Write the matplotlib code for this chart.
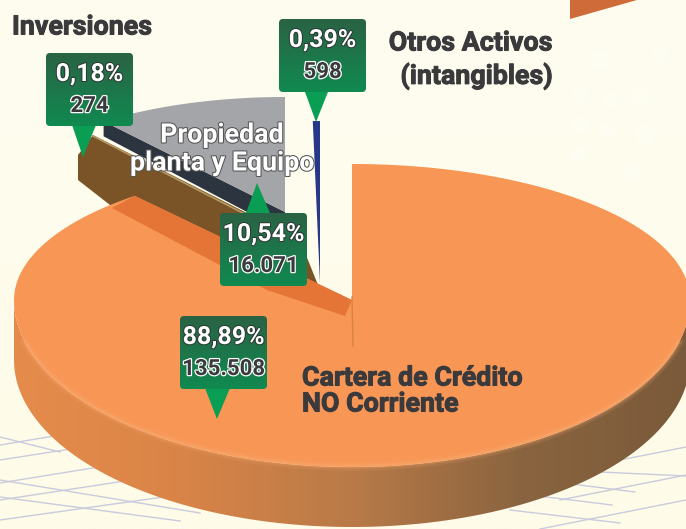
import numpy as np
import matplotlib
matplotlib.use("Agg")
import matplotlib.pyplot as plt
import matplotlib.patheffects as pe
from matplotlib.colors import LinearSegmentedColormap
from matplotlib.patches import Polygon, FancyBboxPatch, Circle

slice_names = ["Cartera de Crédito\nNO Corriente", "Propiedad\nplanta y Equipo", "Inversiones", "Otros Activos\n(intangibles)"]
slice_pct = [88.89, 10.54, 0.18, 0.39]
pct_labels = ["88,89%", "10,54%", "0,18%", "0,39%"]
value_labels = ["135.508", "16.071", "274", "598"]

FONT = ["Roboto", "DejaVu Sans"]
DARK = "#3a3a3d"


def wedge(cx, cy, rx, ry_up, ry_down, start, extent):
    # angles in degrees, counted clockwise from north
    th = np.radians(np.linspace(start, start + extent, 240))
    x = cx + rx * np.sin(th)
    ry = np.where(np.cos(th) > 0, ry_up, ry_down)
    y = cy - ry * np.cos(th)
    return np.column_stack([np.r_[cx, x], np.r_[cy, y]])


def gradient(ax, extent, colors, clip, horizontal=True, zorder=1):
    cmap = LinearSegmentedColormap.from_list("g", colors)
    g = np.linspace(0, 1, 256)
    g = g[None, :] if horizontal else g[:, None]
    im = ax.imshow(g, cmap=cmap, extent=extent, aspect="auto", zorder=zorder)
    im.set_clip_path(clip)


def label(x, y, text, size=19.3, color=DARK, stroke=None, width=0.7, ha="left", zorder=6):
    ax.text(x, y, text, color=color, fontsize=size, fontweight="bold", family=FONT, ha=ha, va="center", zorder=zorder,
            path_effects=[pe.withStroke(linewidth=width, foreground=stroke or color)])


fig = plt.figure(figsize=(6.86, 5.29), dpi=100)
ax = fig.add_axes([0, 0, 1, 1])
ax.set_axis_off()

# background
bg = np.array([[0, 0], [686, 0], [686, 529], [0, 529]])
bg_patch = Polygon(bg, closed=True, fc="none", ec="none")
ax.add_patch(bg_patch)
gradient(ax, (0, 686, 529, 0), ["#fffdf0", "#fefbe8"], bg_patch, horizontal=False, zorder=0)
for bx, by, br in [(580, 95, 9), (610, 100, 8), (640, 98, 9), (580, 125, 9), (607, 130, 8),
                   (645, 135, 10), (578, 155, 8), (632, 172, 9), (600, 60, 10), (660, 55, 9)]:
    ax.add_patch(Circle((bx, by), br, fc="#fffef4", alpha=0.6, ec="none", zorder=0.5))

# floor lines
floor_lines = [
    ((0, 445), (60, 435)), ((0, 460), (90, 446)), ((0, 483), (105, 466)), ((0, 500), (125, 481)),
    ((0, 520), (185, 494)), ((0, 437), (60, 452)), ((0, 480), (200, 513)), ((0, 497), (180, 521)),
    ((686, 447), (610, 462)), ((686, 475), (560, 500)), ((686, 500), (540, 529)), ((600, 472), (686, 476)),
    ((540, 480), (635, 492)), ((530, 495), (612, 505)), ((510, 510), (620, 523)),
]
for p, q in floor_lines:
    ax.plot([p[0], q[0]], [p[1], q[1]], color="#c9cbdc", lw=1, zorder=0.6)

ax.add_patch(Polygon([[570, 0], [570, 19], [637, 0]], fc="#cf6b38", ec="none", zorder=1))

# exploded slice: brown block under the grey face
ax.add_patch(Polygon([[93, 135], [300, 240], [320, 290], [150, 210], [110, 205], [78, 180], [78, 155]],
                     fc="#7a5426", ec="none", joinstyle="round", zorder=2))
ax.plot([93, 270], [136, 227], color="#b59a68", lw=1.2, zorder=2.1)

# grey wedge and its dark side
grey_ext = slice_pct[1] * 3.6
grey = wedge(285, 212, 295, 115, 115, -grey_ext, grey_ext)
rim = grey[1]
ax.add_patch(Polygon([rim, (285, 212), (285, 232), (rim[0], rim[1] + 15)], fc="#2c3440", ec="none", zorder=2.2))
ax.add_patch(Polygon(grey, fc="#a4a5a9", ec="none", zorder=2.3))

# thin blue slice
blue = wedge(320, 283, 295, 162, 162, -slice_pct[3] * 3.6, slice_pct[3] * 3.6)
ax.add_patch(Polygon(blue, fc="#27388a", ec="none", zorder=2.4))

# main slice
cx, cy, rx, up, down, depth = 352, 300, 338, 136, 167, 60
th = np.radians(np.linspace(90, 270, 300))
xs = cx + rx * np.sin(th)
ys = cy - down * np.cos(th)
side = Polygon(np.r_[np.column_stack([xs, ys]), np.column_stack([xs, ys + depth])[::-1]], fc="none", ec="none")
ax.add_patch(side)
gradient(ax, (14, 690, 529, 300), ["#e58c4c", "#d98447", "#b97a48", "#8a6440", "#7a5a3a"], side, zorder=3)

top = wedge(cx, cy, rx, up, down, 0, slice_pct[0] * 3.6)
ax.add_patch(Polygon(top, fc="#f79655", ec="none", zorder=3.2))
# soft highlight along the front rim, kept away from the two side ends
for lw, alpha in [(7, 0.12), (4, 0.2), (2, 0.35)]:
    ax.plot(xs[25:-25], ys[25:-25] - 1, color="#fbab70", lw=lw, alpha=alpha, zorder=3.3)

# shadow from the exploded slice
shadow = Polygon([top[-1], (cx, cy), (345, 316), (267, 290), (112, 208)], fc="#de6a2e", alpha=0.75,
                 ec="none", zorder=3.4)
ax.add_patch(shadow)
ax.plot([352, 353], [297, 346], color="#d98145", lw=1, zorder=3.5)

# callouts: x, y of box corner, pointer base and tip
callouts = {
    0: (180, 316, (205, 388), (230, 388), (217, 419)),
    1: (220, 213, (246, 213), (270, 213), (257, 183)),
    2: (46, 53, (72, 125), (96, 125), (83, 157)),
    3: (279, 19, (305, 92), (328, 92), (316, 122)),
}
for i, (bx, by, b1, b2, tip) in callouts.items():
    ax.add_patch(Polygon([b1, b2, tip], fc="#0a9e54", ec="none", joinstyle="round", zorder=5))
    box = FancyBboxPatch((bx + 3, by + 3), 81, 67, boxstyle="round,pad=3,rounding_size=4", fc="none", ec="none", zorder=5)
    ax.add_patch(box)
    gradient(ax, (bx, bx + 87, by + 73, by), ["#2a6344", "#108a50"], box, horizontal=False, zorder=5.1)
    ax.text(bx + 43.5, by + 21, pct_labels[i], color="white", fontsize=18, fontweight="bold", family=FONT,
            ha="center", va="center", zorder=6,
            path_effects=[pe.withStroke(linewidth=1.5, foreground="#2c3a35")])
    ax.text(bx + 43.5, by + 53, value_labels[i], color=DARK, fontsize=16, fontweight="bold", family=FONT,
            ha="center", va="center", zorder=6,
            path_effects=[pe.withStroke(linewidth=1.8, foreground="white")])

# slice names
label(12, 27, slice_names[2])
for line, y in zip(slice_names[3].split("\n"), (43, 76)):
    label(552, y, line, ha="right")
for line, y in zip(slice_names[1].split("\n"), (135, 163)):
    label(222, y, line, color="white", stroke="#555555", width=1.5, ha="center", zorder=4.5)
for line, y in zip(slice_names[0].split("\n"), (378, 404)):
    label(302, y, line)

ax.set_xlim(0, 686)
ax.set_ylim(529, 0)
fig.savefig("out.png", dpi=100)
